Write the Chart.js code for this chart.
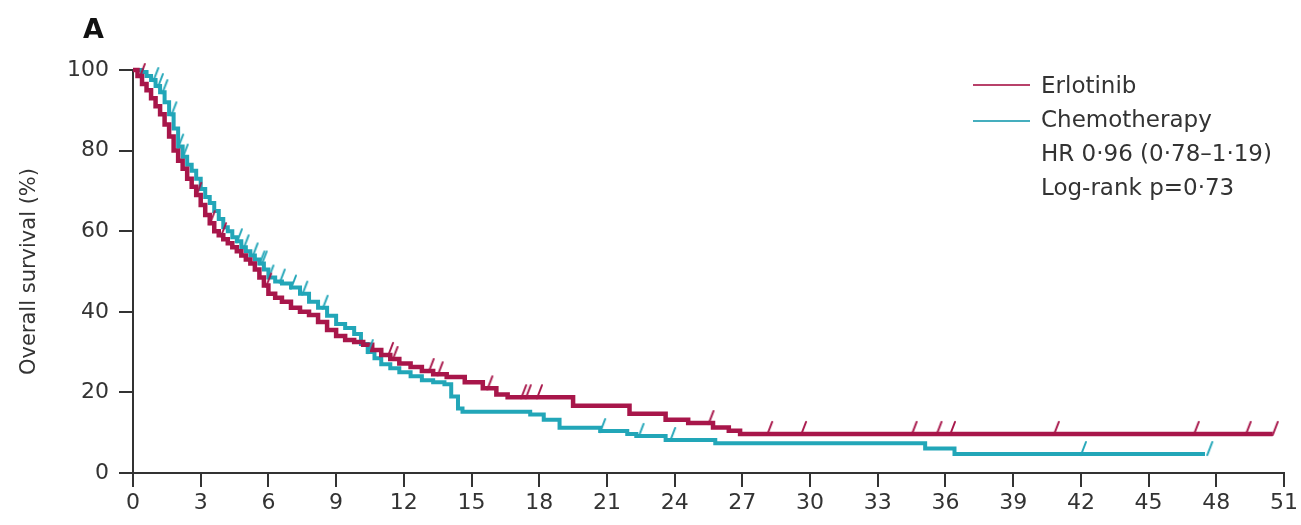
<!DOCTYPE html>
<html>
<head>
<meta charset="utf-8">
<script src="https://cdn.jsdelivr.net/npm/chart.js@4/dist/chart.umd.min.js"></script>
<style>
  html, body { margin: 0; padding: 0; background: #ffffff; }
  #wrap { width: 1301px; height: 525px; position: relative; }
</style>
</head>
<body>
<div id="wrap"><canvas id="c" width="1301" height="525"></canvas></div>
<script>
// ---------- DATA ----------
const panelLabel = 'A';
const yAxisTitle = 'Overall survival (%)';
const seriesNames = ['Erlotinib', 'Chemotherapy'];
const statsLines = ['HR 0·96 (0·78–1·19)', 'Log-rank p=0·73'];

const xTicksMax = 51;   // months, ticks every 3
const xTickStep = 3;
const yTickStep = 20;

// Erlotinib Kaplan-Meier steps (month, % surviving)
const erlotinibTime = [0, 0.2, 0.4, 0.6, 0.8, 1.0, 1.2, 1.4, 1.6, 1.8, 2.0, 2.2, 2.4, 2.6, 2.8, 3.0, 3.2, 3.4, 3.6, 3.8, 4.0, 4.2, 4.4, 4.6, 4.8, 5.0, 5.2, 5.4, 5.6, 5.8, 6.0, 6.3, 6.6, 7.0, 7.4, 7.8, 8.2, 8.6, 9.0, 9.4, 9.8, 10.2, 10.6, 11.0, 11.4, 11.8, 12.3, 12.8, 13.3, 13.9, 14.7, 15.5, 16.1, 16.6, 19.5, 22.0, 23.6, 24.6, 25.7, 26.4, 26.9, 50.5];
const erlotinibSurv = [100, 98.5, 96.5, 95, 93, 91, 89, 86.5, 83.5, 80, 77.5, 75.5, 73, 71, 69, 66.5, 64, 62, 60, 59, 58, 57, 56, 55, 54, 53, 52, 50.5, 48.5, 46.5, 44.5, 43.5, 42.5, 41, 40, 39.2, 37.5, 35.5, 34, 33, 32.5, 31.8, 30.5, 29.3, 28.3, 27.2, 26.3, 25.3, 24.5, 23.8, 22.5, 21, 19.5, 18.8, 16.7, 14.7, 13.2, 12.4, 11.3, 10.5, 9.7, 9.7];
const erlotinibCensor = [0.3, 2.8, 3.4, 3.9, 5.9, 11.3, 11.5, 13.1, 13.5, 15.7, 17.2, 17.4, 17.9, 25.5, 28.1, 29.6, 34.5, 35.6, 36.2, 40.8, 47.0, 49.3, 50.5];

// Chemotherapy Kaplan-Meier steps (month, % surviving)
const chemoTime = [0, 0.4, 0.6, 0.8, 1.0, 1.2, 1.4, 1.6, 1.8, 2.0, 2.2, 2.4, 2.6, 2.8, 3.0, 3.2, 3.4, 3.6, 3.8, 4.0, 4.2, 4.4, 4.6, 4.8, 5.0, 5.2, 5.4, 5.6, 5.8, 6.0, 6.3, 6.6, 7.0, 7.4, 7.8, 8.2, 8.6, 9.0, 9.4, 9.8, 10.1, 10.4, 10.7, 11.0, 11.4, 11.8, 12.3, 12.8, 13.3, 13.8, 14.1, 14.4, 14.6, 17.6, 18.2, 18.9, 20.7, 21.9, 22.3, 23.6, 25.8, 35.1, 36.4, 47.5];
const chemoSurv = [100, 99.5, 98.5, 97.5, 96, 94.5, 92, 89, 85.5, 81, 78.5, 76.5, 75, 73, 70.5, 68.5, 67, 65, 63, 61, 60, 58.5, 57.5, 56, 55, 54, 53, 52, 50.5, 48.5, 47.5, 47, 46, 44.5, 42.5, 41, 39, 37, 36, 34.5, 32, 30, 28.5, 27, 26, 25, 24, 23, 22.5, 22, 19, 16, 15.2, 14.5, 13.2, 11.2, 10.4, 9.7, 9.2, 8.2, 7.4, 6.1, 4.7, 4.7];
const chemoCensor = [0.9, 1.1, 1.3, 1.7, 2.0, 2.2, 4.6, 4.9, 5.3, 5.6, 5.7, 6.0, 6.5, 7.0, 7.5, 8.4, 10.4, 20.7, 22.4, 23.8, 42.0, 47.6];

// ---------- STYLE ----------
const RED = '#A8164A';
const CYAN = '#22A6B8';
const TEXT = '#333333';
const FONT = '"DejaVu Sans", sans-serif';

function toXY(times, vals) {
  return times.map((t, i) => ({ x: t, y: vals[i] }));
}
function survAt(times, vals, t) {
  let v = vals[0];
  for (let i = 0; i < times.length; i++) { if (times[i] <= t) v = vals[i]; }
  return v;
}
function censorPoints(censor, times, vals) {
  return censor.map(t => ({ x: t, y: survAt(times, vals, t) }));
}
function tickGlyph(color) {
  const c = document.createElement('canvas');
  c.width = 30; c.height = 30;
  const g = c.getContext('2d');
  g.strokeStyle = color;
  g.lineWidth = 2;
  g.lineCap = 'round';
  g.beginPath();
  g.moveTo(15, 16);
  g.lineTo(20, 3);
  g.stroke();
  return c;
}

const overlay = {
  id: 'overlay',
  afterDraw(chart) {
    const ctx = chart.ctx;
    ctx.save();
    ctx.fillStyle = '#111';
    ctx.font = 'bold 27px ' + FONT;
    ctx.textBaseline = 'alphabetic';
    ctx.textAlign = 'left';
    ctx.fillText(panelLabel, 83, 38);

    // legend
    const lx0 = 973, lx1 = 1030, tx = 1041;
    const baselines = [93, 127, 161, 195];
    ctx.lineWidth = 2;
    ctx.strokeStyle = '#B8416A';
    ctx.beginPath(); ctx.moveTo(lx0, 85); ctx.lineTo(lx1, 85); ctx.stroke();
    ctx.strokeStyle = '#45AEBE';
    ctx.beginPath(); ctx.moveTo(lx0, 121); ctx.lineTo(lx1, 121); ctx.stroke();
    ctx.fillStyle = TEXT;
    ctx.font = '23px ' + FONT;
    const lines = seriesNames.concat(statsLines);
    lines.forEach((s, i) => ctx.fillText(s, tx, baselines[i]));
    ctx.restore();
  }
};

const ctx = document.getElementById('c').getContext('2d');
new Chart(ctx, {
  type: 'line',
  data: {
    datasets: [
      {
        label: seriesNames[0] + ' censored',
        data: censorPoints(erlotinibCensor, erlotinibTime, erlotinibSurv),
        showLine: false,
        pointStyle: tickGlyph(RED),
        pointRadius: 8,
        clip: false,
        order: 0
      },
      {
        label: seriesNames[1] + ' censored',
        data: censorPoints(chemoCensor, chemoTime, chemoSurv),
        showLine: false,
        pointStyle: tickGlyph(CYAN),
        pointRadius: 8,
        clip: false,
        order: 1
      },
      {
        label: seriesNames[0],
        data: toXY(erlotinibTime, erlotinibSurv),
        borderColor: RED,
        borderWidth: 4.5,
        stepped: 'before',
        pointRadius: 0,
        fill: false,
        clip: false,
        order: 2
      },
      {
        label: seriesNames[1],
        data: toXY(chemoTime, chemoSurv),
        borderColor: CYAN,
        borderWidth: 4,
        stepped: 'before',
        pointRadius: 0,
        fill: false,
        clip: false,
        order: 3
      }
    ]
  },
  options: {
    responsive: false,
    animation: false,
    events: [],
    layout: { padding: { top: 70, left: 17, right: 17, bottom: 0 } },
    plugins: { legend: { display: false }, tooltip: { enabled: false }, title: { display: false } },
    scales: {
      x: {
        type: 'linear',
        min: 0,
        max: xTicksMax,
        afterFit(scale) { scale.height = 52; },
        ticks: {
          stepSize: xTickStep,
          color: TEXT,
          font: { family: FONT, size: 22 },
          padding: 3,
          maxRotation: 0,
          autoSkip: false
        },
        grid: { display: true, drawOnChartArea: false, drawTicks: true, tickLength: 14, color: '#333', lineWidth: 2 },
        border: { display: true, color: '#333', width: 2 }
      },
      y: {
        type: 'linear',
        min: 0,
        max: 100,
        afterFit(scale) { scale.width = 116; },
        ticks: {
          stepSize: yTickStep,
          color: TEXT,
          font: { family: FONT, size: 22 },
          padding: 10
        },
        title: {
          display: true,
          text: yAxisTitle,
          color: TEXT,
          font: { family: FONT, size: 21 },
          padding: 0
        },
        grid: { display: true, drawOnChartArea: false, drawTicks: true, tickLength: 14, color: '#333', lineWidth: 2 },
        border: { display: true, color: '#333', width: 2 }
      }
    }
  },
  plugins: [overlay]
});
</script>
</body>
</html>
